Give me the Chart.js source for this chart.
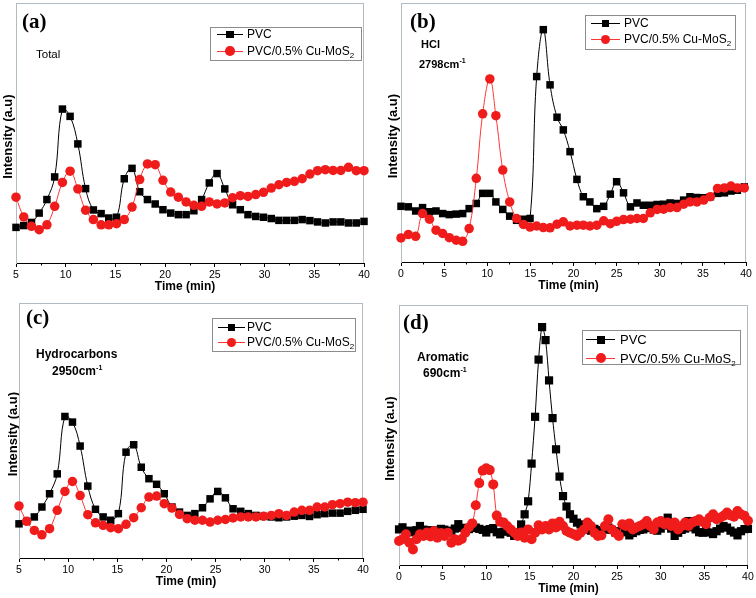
<!DOCTYPE html>
<html>
<head>
<meta charset="utf-8">
<script src="https://cdn.jsdelivr.net/npm/chart.js@4.4.1/dist/chart.umd.min.js"></script>
<style>
  html, body { margin: 0; padding: 0; background: #fff; }
  body { width: 756px; height: 598px; position: relative; overflow: hidden; font-family: Arial, "Liberation Sans", sans-serif; color: #000; }
  .panel { position: absolute; width: 378px; height: 299px; }
  .abs { position: absolute; white-space: nowrap; }
  .tag { font-family: "Times New Roman", "Liberation Serif", serif; font-weight: bold; font-size: 21px; line-height: 21px; }
  .note { font-weight: bold; }
  .legend-box { position: absolute; border: 1px solid #8c8c8c; box-sizing: border-box; }
  sup.s { font-size: 7px; vertical-align: 5px; line-height: 0; }
  sub.s { font-size: 8px; vertical-align: -3px; line-height: 0; }
</style>
</head>
<body>
<div class="panel" style="left:0;top:0"><canvas id="chartA"></canvas></div>
<div class="panel" style="left:378px;top:0"><canvas id="chartB"></canvas></div>
<div class="panel" style="left:0;top:299px"><canvas id="chartC"></canvas></div>
<div class="panel" style="left:378px;top:299px"><canvas id="chartD"></canvas></div>

<!-- panel labels and notes -->
<div class="abs tag" style="left:22px;top:11px">(a)</div>
<div class="abs" style="left:36px;top:49px;font-size:11.5px;line-height:11.5px">Total</div>

<div class="abs tag" style="left:410px;top:11px">(b)</div>
<div class="abs note" style="left:421px;top:39px;font-size:11px;line-height:11px">HCl</div>
<div class="abs note" style="left:419px;top:59px;font-size:11px;line-height:11px">2798cm<sup class="s">-1</sup></div>

<div class="abs tag" style="left:26px;top:307px">(c)</div>
<div class="abs note" style="left:36px;top:348px;font-size:12px;line-height:12px">Hydrocarbons</div>
<div class="abs note" style="left:52px;top:365px;font-size:12px;line-height:12px">2950cm<sup class="s">-1</sup></div>

<div class="abs tag" style="left:403px;top:312px">(d)</div>
<div class="abs note" style="left:417px;top:351px;font-size:12px;line-height:12px">Aromatic</div>
<div class="abs note" style="left:423px;top:367px;font-size:12px;line-height:12px">690cm<sup class="s">-1</sup></div>

<div id="legends"></div>

<script>
// ---- data (time in min, intensity in arbitrary units 0-100 of the axis height) ----
const seriesNames = ['PVC', 'PVC/0.5% Cu-MoS2'];

// (a) Total
const timeTotal = [5.0, 5.78, 6.56, 7.33, 8.11, 8.89, 9.67, 10.44, 11.22, 12.0,
  12.78, 13.56, 14.33, 15.11, 15.89, 16.67, 17.44, 18.22, 19.0, 19.78,
  20.56, 21.33, 22.11, 22.89, 23.67, 24.44, 25.22, 26.0, 26.78, 27.56,
  28.33, 29.11, 29.89, 30.67, 31.44, 32.22, 33.0, 33.78, 34.56, 35.33,
  36.11, 36.89, 37.67, 38.44, 39.22, 40.0];
const pvcTotal = [13.7, 14.4, 15.6, 19.2, 24.4, 33.1, 59.2, 56.4, 45.8, 28.6,
  20.4, 19.0, 17.3, 17.6, 32.4, 36.4, 27.4, 24.4, 22.7, 20.5,
  19.2, 18.6, 18.6, 20.1, 24.4, 30.8, 34.4, 28.5, 22.4, 20.5,
  18.6, 17.9, 17.6, 17.1, 16.4, 16.4, 16.4, 16.7, 16.3, 15.8,
  15.4, 15.8, 15.8, 15.4, 15.4, 16.0];
const cuTotal = [25.3, 17.7, 14.1, 12.8, 14.7, 21.8, 31.0, 35.3, 28.5, 20.3,
  16.7, 14.7, 14.7, 15.1, 16.7, 21.5, 32.1, 38.1, 37.8, 31.8,
  27.3, 25.3, 23.5, 22.2, 21.8, 23.5, 22.7, 23.1, 25.1, 25.9,
  25.6, 26.3, 27.2, 28.8, 30.1, 31.0, 31.4, 32.4, 34.2, 35.5,
  35.9, 35.6, 35.6, 36.8, 35.5, 35.5];

// (b) HCl 2798 cm-1
const timeHcl = [0, 0.85, 1.7, 2.5, 3.3, 4.06, 4.83, 5.6, 6.4, 7.15,
  7.9, 8.73, 9.47, 10.3, 11.0, 11.8, 12.6, 13.4, 14.2, 14.96,
  15.73, 16.5, 17.28, 18.09, 18.82, 19.6, 20.4, 21.14, 21.9, 22.7,
  23.5, 24.27, 25.0, 25.8, 26.6, 27.36, 28.1, 28.9, 29.7, 30.45,
  31.2, 32.0, 32.77, 33.5, 34.3, 35.1, 35.87, 36.7, 37.5, 38.26,
  39.0, 39.8];
const pvcHcl = [21.5, 21.3, 19.7, 21.0, 19.4, 19.7, 18.7, 18.3, 18.5, 18.7,
  20.6, 22.6, 26.5, 26.5, 23.2, 20.3, 17.7, 16.1, 16.5, 16.8,
  71.6, 89.7, 68.4, 55.9, 51.0, 42.6, 31.9, 25.2, 23.2, 20.6,
  21.5, 26.2, 31.0, 26.7, 21.3, 22.8, 21.9, 21.9, 22.2, 22.3,
  22.8, 22.6, 23.9, 25.2, 24.9, 24.8, 25.2, 26.5, 26.7, 27.4,
  27.7, 29.0];
const cuHcl = [9.3, 10.6, 9.9, 18.7, 16.5, 12.3, 11.0, 9.4, 8.4, 8.0,
  12.9, 32.3, 57.2, 70.7, 56.5, 35.5, 23.2, 16.8, 14.5, 13.5,
  13.9, 13.3, 13.2, 14.6, 15.5, 13.9, 14.2, 14.2, 13.9, 14.2,
  15.9, 14.8, 15.7, 16.4, 16.5, 16.8, 16.8, 19.0, 20.3, 20.4,
  21.0, 21.0, 22.3, 23.2, 23.2, 23.9, 25.2, 28.4, 28.6, 29.3,
  28.6, 28.6];

// (c) Hydrocarbons 2950 cm-1
const timeHc = timeTotal;
const pvcHc = [13.4, 14.4, 16.1, 20.0, 25.2, 33.0, 55.5, 53.3, 43.9, 28.2,
  19.1, 16.1, 14.8, 17.4, 41.5, 44.4, 35.6, 31.1, 28.9, 25.2,
  20.0, 18.0, 16.7, 17.4, 19.7, 23.2, 26.1, 23.6, 19.3, 18.3,
  17.4, 16.7, 16.3, 16.1, 15.8, 16.1, 16.4, 16.7, 16.3, 17.0,
  17.4, 17.6, 17.6, 18.3, 18.7, 19.1];
const cuHc = [20.4, 14.4, 10.8, 9.1, 11.5, 18.7, 26.1, 30.0, 24.5, 17.0,
  13.8, 12.8, 11.9, 11.5, 13.2, 15.8, 19.7, 23.9, 24.3, 21.3,
  19.6, 17.1, 15.4, 14.8, 14.8, 14.1, 14.8, 15.1, 15.7, 16.1,
  16.1, 16.1, 16.4, 16.7, 17.4, 16.7, 18.0, 18.7, 18.7, 20.0,
  20.0, 20.9, 21.3, 21.9, 21.7, 21.9];

// (d) Aromatic 690 cm-1
const timeAro = [0, 0.4, 0.8, 1.2, 1.6, 2, 2.4, 2.8, 3.2, 3.6,
  4, 4.4, 4.8, 5.2, 5.6, 6, 6.4, 6.8, 7.2, 7.6,
  8, 8.4, 8.8, 9.2, 9.6, 10, 10.4, 10.8, 11.2, 11.6,
  12, 12.4, 12.8, 13.2, 13.6, 14, 14.4, 14.8, 15.2, 15.6,
  16, 16.4, 16.8, 17.2, 17.6, 18, 18.4, 18.8, 19.2, 19.6,
  20, 20.4, 20.8, 21.2, 21.6, 22, 22.4, 22.8, 23.2, 23.6,
  24, 24.4, 24.8, 25.2, 25.6, 26, 26.4, 26.8, 27.2, 27.6,
  28, 28.4, 28.8, 29.2, 29.6, 30, 30.4, 30.8, 31.2, 31.6,
  32, 32.4, 32.8, 33.2, 33.6, 34, 34.4, 34.8, 35.2, 35.6,
  36, 36.4, 36.8, 37.2, 37.6, 38, 38.4, 38.8, 39.2, 39.6,
  40];
const pvcAro = [13.7, 14.5, 13.0, 13.2, 12.6, 13.4, 15.0, 13.6, 12.9, 13.4,
  12.8, 13.3, 13.9, 13.6, 13.0, 13.2, 14.0, 15.7, 14.3, 13.2,
  13.8, 14.2, 14.4, 13.9, 13.5, 12.5, 13.8, 14.2, 12.6, 11.8,
  12.8, 13.3, 12.4, 11.2, 12.5, 15.6, 19.5, 24.5, 39.0, 57.0,
  79.0, 91.5, 86.5, 71.0, 56.5, 44.5, 34.0, 26.5, 22.5, 19.5,
  17.8, 16.3, 15.6, 14.5, 13.7, 13.2, 13.9, 13.4, 12.8, 13.6,
  14.4, 13.5, 12.5, 13.0, 13.8, 12.6, 11.4, 12.3, 13.0, 13.5,
  13.7, 14.2, 14.4, 13.6, 13.2, 14.0, 15.2, 18.2, 14.0, 11.2,
  12.4, 13.5, 14.0, 16.9, 14.5, 13.7, 12.6, 12.4, 13.3, 12.5,
  11.9, 13.0, 14.0, 15.0, 14.4, 13.2, 12.5, 11.4, 13.0, 13.8,
  13.9];
const cuAro = [9.2, 9.9, 11.8, 8.6, 6.0, 9.9, 11.8, 11.2, 12.5, 11.0,
  13.1, 10.5, 12.3, 11.2, 12.4, 8.6, 9.9, 9.3, 10.0, 12.4,
  14.4, 16.0, 23.0, 31.5, 36.3, 37.2, 36.5, 31.0, 19.0, 16.6,
  16.3, 15.0, 13.7, 12.5, 11.2, 12.5, 10.5, 13.7, 9.9, 12.4,
  15.3, 13.7, 15.0, 13.7, 16.0, 14.4, 16.6, 15.0, 13.1, 12.4,
  11.8, 11.2, 12.4, 13.7, 16.3, 15.0, 12.4, 11.2, 11.4, 15.0,
  17.6, 13.7, 12.4, 11.2, 15.7, 15.0, 16.0, 13.7, 14.4, 15.0,
  15.7, 16.9, 15.0, 13.7, 16.3, 16.9, 15.7, 16.3, 15.0, 16.3,
  13.7, 15.0, 16.3, 15.0, 16.3, 16.9, 17.6, 16.6, 15.7, 18.2,
  19.5, 17.6, 18.2, 18.9, 20.2, 19.1, 18.6, 20.8, 19.5, 18.9,
  17.0];

// ---- styling ----
const BLACK = '#000000';
const RED = '#f01c1c';
const RED_LINE = '#ff3535';
const FRAME = '#b2bac2';
const PANEL_H = 299;
const PANEL_W = 378;

Chart.defaults.font.family = 'Arial, "Liberation Sans", sans-serif';
Chart.defaults.color = '#000';

function toPoints(xs, ys) {
  return xs.map((x, i) => ({ x: x, y: ys[i] }));
}

// gray top/right frame lines and short minor ticks on the time axis
const framePlugin = {
  id: 'frame',
  beforeDatasetsDraw(chart) {
    const { ctx, chartArea: a, scales: { x } } = chart;
    ctx.save();
    ctx.strokeStyle = FRAME;
    ctx.lineWidth = 1;
    ctx.beginPath();
    ctx.moveTo(a.left, Math.round(a.top) + 0.5);
    ctx.lineTo(a.right, Math.round(a.top) + 0.5);
    ctx.moveTo(Math.round(a.right) - 0.5, a.top);
    ctx.lineTo(Math.round(a.right) - 0.5, a.bottom);
    ctx.stroke();
    ctx.strokeStyle = BLACK;
    ctx.beginPath();
    for (let v = x.min + 2.5; v < x.max; v += 5) {
      const px = Math.round(x.getPixelForValue(v)) + 0.5;
      ctx.moveTo(px, a.bottom);
      ctx.lineTo(px, a.bottom + 2.5);
    }
    ctx.stroke();
    ctx.restore();
  }
};

function renderPanel(p) {
  const xTitleLH = 12 * 1.2;
  const xAxisHeight = 23.5 + xTitleLH / 2;
  const padBottom = PANEL_H - p.area.bottom - xAxisHeight;
  const ctx = document.getElementById(p.canvas);
  return new Chart(ctx, {
    type: 'line',
    data: {
      datasets: [
        {
          label: seriesNames[1],
          data: toPoints(p.time, p.red),
          borderColor: RED_LINE,
          borderWidth: 1,
          pointStyle: 'circle',
          pointRadius: p.circleR,
          pointBorderWidth: 0,
          pointBackgroundColor: RED,
          tension: p.tension,
          clip: false,
          order: 0
        },
        {
          label: seriesNames[0],
          data: toPoints(p.time, p.pvc),
          borderColor: BLACK,
          borderWidth: 1,
          pointStyle: 'rect',
          pointRadius: p.squareR,
          pointBorderWidth: 0,
          pointBackgroundColor: BLACK,
          tension: p.tension,
          clip: false,
          order: 1
        }
      ]
    },
    options: {
      responsive: true,
      maintainAspectRatio: false,
      animation: false,
      events: [],
      layout: {
        autoPadding: false,
        padding: { left: 0, top: p.area.top, right: PANEL_W - p.area.right, bottom: padBottom }
      },
      plugins: { legend: { display: false }, tooltip: { enabled: false } },
      scales: {
        x: {
          type: 'linear',
          min: p.xMin,
          max: p.xMax,
          ticks: { stepSize: 5, autoSkip: false, maxRotation: 0, padding: 2.2, font: { size: 10.5 }, color: '#000' },
          grid: { display: true, drawOnChartArea: false, drawTicks: true, tickLength: 4, tickColor: BLACK, tickWidth: 1 },
          border: { color: BLACK, width: 1 },
          title: { display: true, text: 'Time (min)   ', font: { size: 12, weight: 'bold' }, color: '#000', padding: 0 },
          afterFit(scale) { scale.height = xAxisHeight; }
        },
        y: {
          min: 0,
          max: 100,
          ticks: { display: false },
          grid: { display: false },
          border: { color: FRAME, width: 1 },
          title: { display: true, text: 'Intensity (a.u)  ', font: { size: 13, weight: 'bold' }, color: '#000', padding: { top: p.yTitleX - 7.8, bottom: 0 } },
          afterFit(scale) { scale.width = p.area.left; }
        }
      }
    },
    plugins: [framePlugin]
  });
}

// ---- legends (HTML, positioned over each panel) ----
function addLegend(L) {
  const host = document.getElementById('legends');
  const box = document.createElement('div');
  box.className = 'legend-box';
  box.style.cssText = `left:${L.left}px;top:${L.top}px;width:${L.width}px;height:${L.height}px`;
  host.appendChild(box);
  const entries = [
    { html: seriesNames[0], color: BLACK, line: BLACK, shape: 'square', size: L.square },
    { html: 'PVC/0.5% Cu-MoS<sub class="s">2</sub>', color: RED, line: RED_LINE, shape: 'circle', size: L.circle }
  ];
  entries.forEach((e, i) => {
    const cy = L.rows[i];
    const line = document.createElement('div');
    line.className = 'abs';
    line.style.cssText = `left:${L.lineX0}px;top:${cy - 0.5}px;width:${L.lineX1 - L.lineX0}px;height:1px;background:${e.line}`;
    host.appendChild(line);
    const mid = (L.lineX0 + L.lineX1) / 2;
    const mk = document.createElement('div');
    mk.className = 'abs';
    mk.style.cssText = `left:${mid - e.size / 2}px;top:${cy - e.size / 2}px;width:${e.size}px;height:${e.size}px;background:${e.color};` +
      (e.shape === 'circle' ? 'border-radius:50%;' : '');
    host.appendChild(mk);
    const tx = document.createElement('div');
    tx.className = 'abs';
    tx.style.cssText = `left:${L.textX}px;top:${cy - 0.49 * L.font}px;font-size:${L.font}px;line-height:${L.font}px`;
    tx.innerHTML = e.html;
    host.appendChild(tx);
  });
}

renderPanel({ canvas: 'chartA', time: timeTotal, pvc: pvcTotal, red: cuTotal, xMin: 5, xMax: 40,
  area: { left: 16, top: 3, right: 364, bottom: 263 }, yTitleX: 8, squareR: 5.3, circleR: 4.75, tension: 0.4 });
renderPanel({ canvas: 'chartB', time: timeHcl, pvc: pvcHcl, red: cuHcl, xMin: 0, xMax: 40,
  area: { left: 23, top: 3, right: 368, bottom: 262 }, yTitleX: 15, squareR: 5.3, circleR: 4.75, tension: 0.4 });
renderPanel({ canvas: 'chartC', time: timeHc, pvc: pvcHc, red: cuHc, xMin: 5, xMax: 40,
  area: { left: 19, top: 4, right: 363, bottom: 259 }, yTitleX: 13, squareR: 5.3, circleR: 4.75, tension: 0.4 });
renderPanel({ canvas: 'chartD', time: timeAro, pvc: pvcAro, red: cuAro, xMin: 0, xMax: 40,
  area: { left: 21, top: 6, right: 370, bottom: 266 }, yTitleX: 12, squareR: 5.8, circleR: 5, tension: 0.3 });

addLegend({ left: 210, top: 27, width: 152, height: 34, rows: [34.3, 51], lineX0: 217, lineX1: 243, textX: 247, font: 12, square: 7.5, circle: 9.5 });
addLegend({ left: 585, top: 15, width: 151, height: 35, rows: [23.3, 39.3], lineX0: 591, lineX1: 620, textX: 624, font: 12, square: 7.5, circle: 9.5 });
addLegend({ left: 212, top: 318, width: 144, height: 34, rows: [327.3, 342.3], lineX0: 218, lineX1: 245, textX: 247, font: 12, square: 7.5, circle: 9.5 });
addLegend({ left: 582, top: 330, width: 159, height: 35, rows: [339.7, 358.3], lineX0: 586, lineX1: 615, textX: 620, font: 13, square: 8, circle: 10 });
</script>
</body>
</html>
